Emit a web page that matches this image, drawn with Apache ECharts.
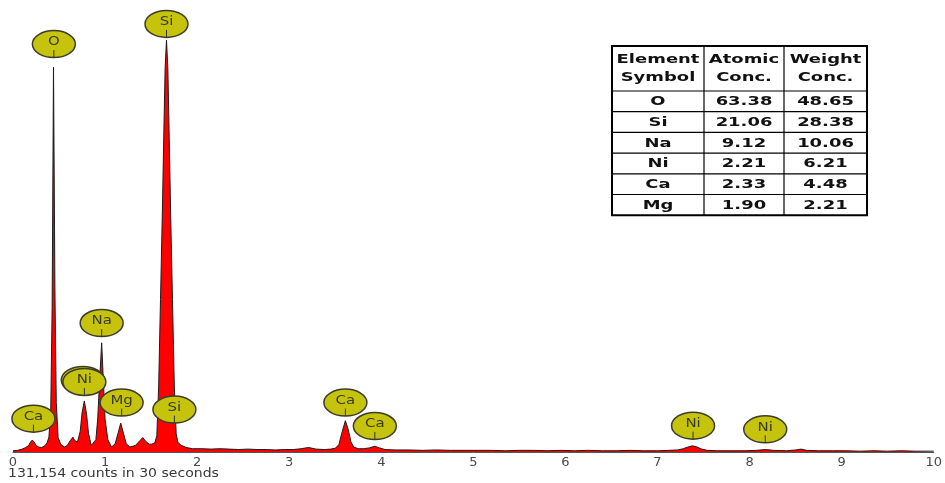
<!DOCTYPE html>
<html>
<head>
<meta charset="utf-8">
<script src="https://cdn.jsdelivr.net/npm/echarts@6.0.0/dist/echarts.min.js"></script>
<style>
  html, body { margin: 0; padding: 0; background: #ffffff; }
  #chart { width: 945px; height: 483px; }
</style>
</head>
<body>
<div id="chart"></div>
<script>
// EDS spectrum: photon energy (keV) and relative counts per channel
const energyKeV = [
  0.00, 0.05, 0.10, 0.14, 0.17, 0.19, 0.21, 0.23, 0.25, 0.28, 0.31, 0.34, 0.37, 0.39,
  0.41, 0.425, 0.44, 0.455, 0.47, 0.49, 0.52, 0.56, 0.59, 0.62, 0.65, 0.67, 0.70,
  0.73, 0.75, 0.775, 0.80, 0.82, 0.85, 0.87, 0.90, 0.92, 0.94, 0.963, 0.98, 1.00,
  1.03, 1.07, 1.11, 1.14, 1.17, 1.20, 1.23, 1.27, 1.33, 1.38, 1.41, 1.44, 1.48,
  1.51, 1.542, 1.562, 1.582, 1.602, 1.622, 1.637, 1.652, 1.667, 1.682, 1.697, 1.712,
  1.732, 1.752, 1.772, 1.79, 1.82, 1.88, 1.95, 2.05, 2.15, 2.25, 2.35, 2.45, 2.55,
  2.65, 2.75, 2.85, 2.95, 3.05, 3.13, 3.21, 3.29, 3.38, 3.45, 3.50, 3.54, 3.57,
  3.61, 3.64, 3.67, 3.70, 3.75, 3.81, 3.87, 3.93, 3.98, 4.04, 4.15, 4.30, 4.45,
  4.60, 4.75, 4.90, 5.05, 5.20, 5.35, 5.50, 5.65, 5.80, 5.95, 6.10, 6.25, 6.40,
  6.55, 6.70, 6.85, 7.00, 7.12, 7.22, 7.28, 7.33, 7.38, 7.43, 7.48, 7.54, 7.65,
  7.80, 7.95, 8.08, 8.17, 8.26, 8.40, 8.50, 8.56, 8.62, 8.75, 8.90, 9.05, 9.20,
  9.35, 9.50, 9.65, 9.80, 10.00
];
const counts = [
  0.3, 0.4, 0.7, 1.1, 1.6, 2.4, 2.9, 2.4, 1.6, 1.2, 1.1, 1.4, 2.2, 3.6,
  10, 35, 93.4, 40, 12, 3.5, 1.8, 1.2, 1.6, 2.7, 3.6, 2.8, 2.4,
  5.0, 9.5, 12.4, 9.0, 4.5, 1.6, 1.3, 3.0, 8.0, 17, 26.5, 18, 8.0,
  3.0, 1.2, 2.0, 4.5, 7.0, 4.5, 2.0, 1.2, 1.6, 2.8, 3.5, 2.6, 1.9,
  1.9, 2.3, 4.0, 16, 37, 58, 76, 93, 100, 93, 76, 58,
  37, 16, 4.5, 2.4, 1.7, 1.1, 0.8, 0.8, 0.7, 0.8, 0.7, 0.6, 0.7,
  0.6, 0.6, 0.5, 0.6, 0.6, 0.8, 1.1, 0.7, 0.6, 0.7, 0.9, 1.8, 4.5,
  7.6, 5.5, 2.5, 1.2, 0.8, 0.8, 1.0, 1.4, 1.0, 0.6, 0.5, 0.5, 0.4,
  0.5, 0.4, 0.4, 0.4, 0.4, 0.3, 0.4, 0.4, 0.3, 0.4, 0.3, 0.4, 0.3,
  0.3, 0.4, 0.3, 0.3, 0.4, 0.5, 0.8, 1.2, 1.5, 1.2, 0.7, 0.4, 0.3,
  0.3, 0.3, 0.4, 0.6, 0.4, 0.3, 0.5, 0.7, 0.4, 0.3, 0.3, 0.3, 0.2,
  0.3, 0.2, 0.3, 0.2, 0.2
];

// Peak identification tags: element, line energy (keV), tag height (counts)
const peakLabelNames  = ['O', 'Si', 'Na', 'Ni', 'Ni', 'Mg', 'Si', 'Ca', 'Ca', 'Ca', 'Ni', 'Ni'];
const peakLabelEnergy = [0.444, 1.667, 0.963, 0.758, 0.775, 1.18, 1.753, 0.222, 3.61, 3.93, 7.386, 8.17];
const peakLabelHeight = [99.0, 103.9, 31.3, 17.5, 17.0, 12.0, 10.3, 8.1, 12.0, 6.3, 6.4, 5.5];

// Axis ticks
const energyTicks = [0, 1, 2, 3, 4, 5, 6, 7, 8, 9, 10];
const acquisitionNote = '131,154 counts in 30 seconds';

// Quantification table
const tableHeaders = [['Element', 'Symbol'], ['Atomic', 'Conc.'], ['Weight', 'Conc.']];
const tableSymbols = ['O', 'Si', 'Na', 'Ni', 'Ca', 'Mg'];
const atomicConc   = ['63.38', '21.06', '9.12', '2.21', '2.33', '1.90'];
const weightConc   = ['48.65', '28.38', '10.06', '6.21', '4.48', '2.21'];

const chart = echarts.init(document.getElementById('chart'));

function tableGraphics() {
  const left = 612, top = 46;
  const colEdges = [612, 704, 784, 867];
  const headH = 45, rowH = 20.7;
  const bottom = top + headH + rowH * tableSymbols.length;
  const tableFont = 'bold 13px "DejaVu Sans"';
  const sx = 1.38;
  const els = [];
  els.push({
    type: 'rect', shape: { x: left, y: top, width: colEdges[3] - left, height: bottom - top },
    style: { fill: '#ffffff', stroke: '#000000', lineWidth: 2 }, z: 10
  });
  for (let c = 1; c < 3; c++) {
    els.push({ type: 'line', shape: { x1: colEdges[c], y1: top, x2: colEdges[c], y2: bottom },
      style: { stroke: '#000000', lineWidth: 1.2 }, z: 11 });
  }
  for (let r = 0; r < tableSymbols.length; r++) {
    const y = top + headH + rowH * r;
    els.push({ type: 'line', shape: { x1: left, y1: y, x2: colEdges[3], y2: y },
      style: { stroke: '#000000', lineWidth: 1.2 }, z: 11 });
  }
  const centers = [0, 1, 2].map(c => (colEdges[c] + colEdges[c + 1]) / 2);
  const addText = (txt, x, y) => els.push({
    type: 'text', x: x, y: y, scaleX: sx, z: 12,
    style: { text: txt, font: tableFont, fill: '#111111',
      align: 'center', verticalAlign: 'middle', textAlign: 'center', textVerticalAlign: 'middle' }
  });
  tableHeaders.forEach((h, c) => {
    addText(h[0], centers[c], top + 14);
    addText(h[1], centers[c], top + 32);
  });
  tableSymbols.forEach((s, r) => {
    const y = top + headH + rowH * r + rowH / 2 + 0.5;
    addText(s, centers[0], y);
    addText(atomicConc[r], centers[1], y);
    addText(weightConc[r], centers[2], y);
  });
  return els;
}

const option = {
  animation: false,
  backgroundColor: '#ffffff',
  grid: { left: 13, right: 10, top: 40, bottom: 31 },
  xAxis: {
    type: 'value', min: energyTicks[0], max: energyTicks[energyTicks.length - 1], interval: 1,
    axisLine: { show: true, lineStyle: { color: '#555555', width: 1 } },
    axisTick: { show: false },
    splitLine: { show: false },
    axisLabel: {
      color: '#4a4a4a', fontSize: 13, fontFamily: 'DejaVu Sans', margin: 4,
      formatter: v => (energyTicks.indexOf(v) >= 0 ? String(v) : '')
    }
  },
  yAxis: { type: 'value', min: 0, max: 100, show: false },
  series: [
    {
      type: 'line',
      data: energyKeV.map((e, i) => [e, counts[i]]),
      showSymbol: false,
      symbol: 'none',
      lineStyle: { color: '#1c1c1c', width: 1 },
      areaStyle: { color: '#ff0000', opacity: 1 },
      z: 2
    },
    {
      type: 'custom',
      clip: false,
      z: 5,
      data: peakLabelEnergy.map((e, i) => [e, peakLabelHeight[i]]),
      renderItem: function (params, api) {
        const p = api.coord([api.value(0), api.value(1)]);
        const name = peakLabelNames[params.dataIndex];
        return {
          type: 'group',
          children: [
            { type: 'ellipse', shape: { cx: p[0], cy: p[1], rx: 21.5, ry: 13.5 },
              style: { fill: '#c6c30c', stroke: '#3d3d2c', lineWidth: 1.5 } },
            { type: 'line', shape: { x1: p[0], y1: p[1] + 6, x2: p[0], y2: p[1] + 13.5 },
              style: { stroke: '#333333', lineWidth: 1 } },
            { type: 'text', x: p[0], y: p[1] - 2, scaleX: 1.15,
              style: { text: name, fill: '#3a3a2a', font: '13px "DejaVu Sans"',
                align: 'center', verticalAlign: 'middle', textAlign: 'center', textVerticalAlign: 'middle' } }
          ]
        };
      }
    }
  ],
  graphic: {
    elements: tableGraphics().concat([
      { type: 'text', x: 8, y: 474, scaleX: 1.17,
        style: { text: acquisitionNote, font: '12px "DejaVu Sans"', fill: '#3a3a3a',
          align: 'left', verticalAlign: 'middle', textAlign: 'left', textVerticalAlign: 'middle' } }
    ])
  }
};

chart.setOption(option);
</script>
</body>
</html>
